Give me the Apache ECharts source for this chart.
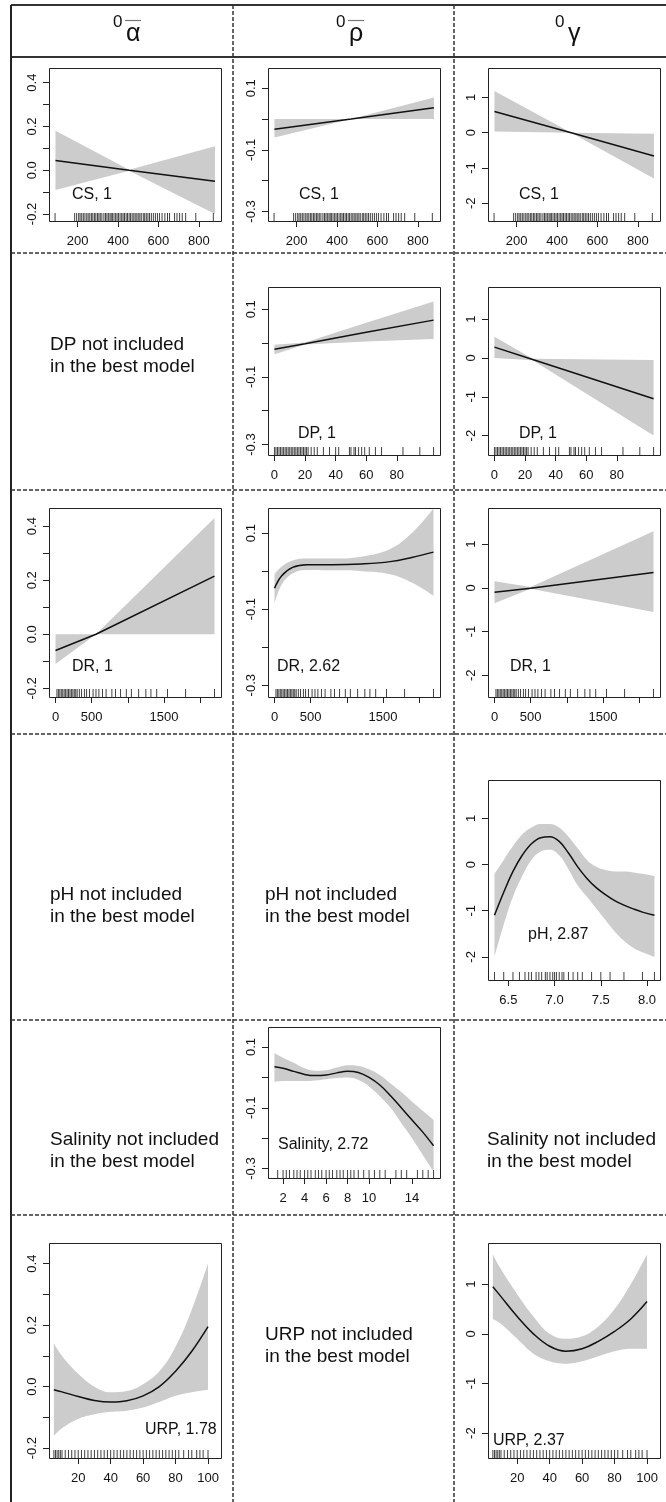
<!DOCTYPE html>
<html>
<head>
<meta charset="utf-8">
<script src="https://cdn.jsdelivr.net/npm/echarts@6/dist/echarts.min.js"></script>
<style>
  html, body { margin: 0; padding: 0; background: #fff; }
  #main { width: 666px; height: 1502px; }
</style>
</head>
<body>
<div id="main"></div>
<script>
// ---- data ----
// CS
var csX = [90, 455, 880];
var csAlphaFit = [0.044, 0.0, -0.05];
var csAlphaLo = [-0.09, -0.002, -0.2];
var csAlphaHi = [0.18, 0.002, 0.11];
var csRhoX = [90, 470, 880];
var csRhoFit = [-0.033, 0.0, 0.037];
var csRhoLo = [-0.06, 0.0, 0.0];
var csRhoHi = [0.0, 0.0, 0.07];
var csGammaX = [90, 470, 880];
var csGammaFit = [0.6, 0.0, -0.66];
var csGammaLo = [0.03, 0.0, -1.3];
var csGammaHi = [1.18, 0.0, -0.03];
var csRug = [88, 185, 195, 205, 212, 220, 228, 236, 245, 252, 260, 268, 275, 283, 290, 298, 305, 312, 320, 330, 338, 345, 352, 360, 366, 372, 380, 388, 395, 402, 410, 418, 425, 432, 440, 447, 455, 462, 470, 478, 485, 493, 500, 508, 515, 525, 532, 540, 548, 556, 565, 575, 585, 595, 605, 618, 632, 645, 655, 680, 692, 705, 718, 735, 785, 872];
var csTicks = [200, 400, 600, 800];

// DP
var dpX = [0, 20, 60, 104];
var dpRhoFit = [-0.018, -0.002, 0.032, 0.068];
var dpRhoLo = [-0.033, -0.004, 0.005, 0.012];
var dpRhoHi = [-0.005, 0.002, 0.06, 0.123];
var dpGammaX = [0, 25, 104];
var dpGammaFit = [0.28, -0.04, -1.05];
var dpGammaLo = [0.0, -0.06, -2.0];
var dpGammaHi = [0.55, -0.02, -0.05];
var dpRug = [0, 1, 2, 3, 4, 5, 6, 7, 8, 9, 10, 11, 12, 13, 14, 15, 16, 17, 18, 19, 20, 21, 22, 24, 26, 28, 32, 36, 40, 42, 49, 50, 52, 53, 55, 57, 59, 62, 66, 70, 84, 95, 104];
var dpTicks = [0, 20, 40, 60, 80];

// DR
var drX = [0, 560, 2200];
var drAlphaFit = [-0.06, 0.0, 0.215];
var drAlphaLo = [-0.11, 0.0, 0.0];
var drAlphaHi = [0.0, 0.0, 0.43];
var drRhoX = [0, 100, 250, 450, 800, 1200, 1600, 1900, 2200];
var drRhoFit = [-0.045, -0.012, 0.01, 0.017, 0.017, 0.019, 0.025, 0.036, 0.05];
var drRhoLo = [-0.085, -0.035, -0.006, 0.003, 0.002, 0.0, -0.008, -0.03, -0.065];
var drRhoHi = [-0.008, 0.012, 0.028, 0.033, 0.033, 0.038, 0.058, 0.1, 0.165];
var drGammaX = [0, 500, 2200];
var drGammaFit = [-0.1, -0.01, 0.35];
var drGammaLo = [-0.35, -0.02, -0.55];
var drGammaHi = [0.15, 0.02, 1.3];
var drRug = [20, 40, 60, 80, 100, 120, 140, 160, 180, 200, 220, 240, 260, 280, 300, 330, 360, 400, 430, 470, 520, 560, 600, 650, 700, 780, 830, 900, 980, 1050, 1150, 1250, 1320, 1400, 1550, 1800, 2200];
var drTicks = [0, 500, 1000, 1500, 2000];
var drLabels = [0, 500, 1500];

// pH
var phX = [6.35, 6.45, 6.55, 6.65, 6.75, 6.85, 6.95, 7.05, 7.15, 7.25, 7.35, 7.45, 7.55, 7.65, 7.75, 7.85, 7.95, 8.08];
var phGammaFit = [-1.1, -0.6, -0.15, 0.2, 0.45, 0.58, 0.6, 0.5, 0.25, -0.05, -0.3, -0.5, -0.65, -0.78, -0.88, -0.96, -1.03, -1.1];
var phGammaLo = [-2.0, -1.3, -0.7, -0.25, 0.1, 0.28, 0.32, 0.2, -0.1, -0.45, -0.7, -0.95, -1.2, -1.45, -1.65, -1.8, -1.9, -2.0];
var phGammaHi = [-0.2, 0.1, 0.4, 0.65, 0.8, 0.88, 0.88, 0.8, 0.6, 0.35, 0.1, -0.05, -0.12, -0.15, -0.15, -0.17, -0.2, -0.25];
var phRug = [6.35, 6.45, 6.55, 6.62, 6.68, 6.72, 6.75, 6.8, 6.83, 6.86, 6.9, 6.92, 6.95, 6.98, 7.0, 7.02, 7.05, 7.08, 7.1, 7.15, 7.2, 7.25, 7.3, 7.4, 7.5, 7.6, 7.75, 7.95, 8.08];
var phTicks = [6.5, 7.0, 7.5, 8.0];

// Salinity
var salX = [1.2, 2, 3, 4, 5, 6, 7, 8, 9, 10, 11, 12, 13, 14, 15, 16];
var salRhoFit = [0.035, 0.03, 0.02, 0.01, 0.006, 0.008, 0.015, 0.02, 0.016, 0.0, -0.025, -0.06, -0.1, -0.14, -0.18, -0.225];
var salRhoLo = [-0.015, -0.012, -0.012, -0.012, -0.01, -0.006, -0.002, 0.0, -0.008, -0.03, -0.062, -0.1, -0.15, -0.2, -0.255, -0.31];
var salRhoHi = [0.08, 0.065, 0.048, 0.03, 0.022, 0.024, 0.033, 0.04, 0.038, 0.027, 0.008, -0.02, -0.048, -0.08, -0.11, -0.14];
var salRug = [1.5, 2, 2.3, 2.6, 3, 3.3, 3.6, 4, 4.3, 4.6, 5, 5.3, 5.6, 6, 6.3, 6.6, 7, 7.3, 7.6, 8, 8.3, 8.6, 9, 9.5, 10, 10.5, 11, 11.5, 12.5, 13, 13.5, 14.5, 15, 15.5, 16];
var salTicks = [2, 4, 6, 8, 10, 12, 14];
var salLabels = [2, 4, 6, 8, 10, 14];

// URP
var urpX = [5, 10, 20, 30, 40, 50, 60, 70, 80, 90, 100];
var urpAlphaFit = [-0.01, -0.017, -0.032, -0.045, -0.05, -0.046, -0.03, 0.0, 0.05, 0.115, 0.195];
var urpAlphaLo = [-0.16, -0.135, -0.105, -0.09, -0.082, -0.078, -0.068, -0.05, -0.03, -0.018, -0.01];
var urpAlphaHi = [0.14, 0.1, 0.042, 0.0, -0.018, -0.014, 0.008, 0.05, 0.13, 0.25, 0.4];
var urpGammaFit = [0.95, 0.75, 0.35, 0.0, -0.25, -0.35, -0.3, -0.15, 0.05, 0.3, 0.65];
var urpGammaLo = [0.3, 0.2, -0.1, -0.4, -0.55, -0.6, -0.55, -0.45, -0.35, -0.3, -0.3];
var urpGammaHi = [1.6, 1.3, 0.8, 0.35, 0.0, -0.1, -0.05, 0.15, 0.5, 1.0, 1.6];
var urpRug = [5, 6, 7, 8, 9, 10, 12, 14, 16, 18, 20, 22, 24, 26, 28, 30, 32, 34, 36, 38, 40, 42, 44, 46, 48, 50, 52, 54, 56, 58, 60, 62, 64, 66, 68, 70, 72, 74, 76, 78, 80, 82, 85, 88, 90, 93, 95, 97, 100];
var urpTicks = [20, 40, 60, 80, 100];

// y scales of the three columns
var yAlpha = { min: -0.232, max: 0.467, ticks: [-0.2, -0.1, 0, 0.1, 0.2, 0.3, 0.4], labels: [-0.2, 0, 0.2, 0.4], dec: 1 };
var yRho = { min: -0.331, max: 0.166, ticks: [-0.3, -0.2, -0.1, 0, 0.1], labels: [-0.3, -0.1, 0.1], dec: 1 };
var yGamma = { min: -2.5, max: 1.83, ticks: [-2, -1, 0, 1], labels: [-2, -1, 0, 1], dec: 0 };

var headers = ['α', 'ρ', 'γ'];
var missing = [
  { c: 0, cy: 356, text: 'DP not included\nin the best model' },
  { c: 0, cy: 906, text: 'pH not included\nin the best model' },
  { c: 1, cy: 906, text: 'pH not included\nin the best model' },
  { c: 0, cy: 1151, text: 'Salinity not included\nin the best model' },
  { c: 2, cy: 1151, text: 'Salinity not included\nin the best model' },
  { c: 1, cy: 1346, text: 'URP not included\nin the best model' }
];

// ---- layout ----
var colX = [11, 233, 454];
var textX = [50, 265, 487];
var rowY = [5, 57, 253, 490, 734, 1020, 1215];
var boxLeft = [49, 268, 488];
var boxW = 172;
var boxTop = [68, 287, 508, 780, 1027, 1243];
var boxH = [153, 168, 189, 200, 151, 215];

var panels = [
  { c: 0, r: 0, xr: [58, 910], y: yAlpha, xs: csX, fit: csAlphaFit, lo: csAlphaLo, hi: csAlphaHi, rug: csRug, xt: csTicks, xl: csTicks, label: 'CS, 1', lx: 72, ly: 195 },
  { c: 1, r: 0, xr: [58, 910], y: yRho, xs: csRhoX, fit: csRhoFit, lo: csRhoLo, hi: csRhoHi, rug: csRug, xt: csTicks, xl: csTicks, label: 'CS, 1', lx: 299, ly: 195 },
  { c: 2, r: 0, xr: [58, 910], y: yGamma, xs: csGammaX, fit: csGammaFit, lo: csGammaLo, hi: csGammaHi, rug: csRug, xt: csTicks, xl: csTicks, label: 'CS, 1', lx: 519, ly: 195 },
  { c: 1, r: 1, xr: [-4.2, 108.2], y: yRho, xs: dpX, fit: dpRhoFit, lo: dpRhoLo, hi: dpRhoHi, rug: dpRug, xt: dpTicks, xl: dpTicks, label: 'DP, 1', lx: 298, ly: 434 },
  { c: 2, r: 1, xr: [-4.2, 108.2], y: yGamma, xs: dpGammaX, fit: dpGammaFit, lo: dpGammaLo, hi: dpGammaHi, rug: dpRug, xt: dpTicks, xl: dpTicks, label: 'DP, 1', lx: 519, ly: 434 },
  { c: 0, r: 2, xr: [-90, 2290], y: yAlpha, xs: drX, fit: drAlphaFit, lo: drAlphaLo, hi: drAlphaHi, rug: drRug, xt: drTicks, xl: drLabels, label: 'DR, 1', lx: 72, ly: 667 },
  { c: 1, r: 2, xr: [-90, 2290], y: yRho, xs: drRhoX, fit: drRhoFit, lo: drRhoLo, hi: drRhoHi, rug: drRug, xt: drTicks, xl: drLabels, label: 'DR, 2.62', lx: 277, ly: 667, smooth: true },
  { c: 2, r: 2, xr: [-90, 2290], y: yGamma, xs: drGammaX, fit: drGammaFit, lo: drGammaLo, hi: drGammaHi, rug: drRug, xt: drTicks, xl: drLabels, label: 'DR, 1', lx: 510, ly: 667 },
  { c: 2, r: 3, xr: [6.28, 8.14], y: yGamma, xs: phX, fit: phGammaFit, lo: phGammaLo, hi: phGammaHi, rug: phRug, xt: phTicks, xl: phTicks, label: 'pH, 2.87', lx: 528, ly: 935, smooth: true },
  { c: 1, r: 4, xr: [0.6, 16.6], y: yRho, xs: salX, fit: salRhoFit, lo: salRhoLo, hi: salRhoHi, rug: salRug, xt: salTicks, xl: salLabels, label: 'Salinity, 2.72', lx: 278, ly: 1145, smooth: true },
  { c: 0, r: 5, xr: [2, 108], y: yAlpha, xs: urpX, fit: urpAlphaFit, lo: urpAlphaLo, hi: urpAlphaHi, rug: urpRug, xt: urpTicks, xl: urpTicks, label: 'URP, 1.78', lx: 145, ly: 1430, smooth: true },
  { c: 2, r: 5, xr: [2, 108], y: yGamma, xs: urpX, fit: urpGammaFit, lo: urpGammaLo, hi: urpGammaHi, rug: urpRug, xt: urpTicks, xl: urpTicks, label: 'URP, 2.37', lx: 493, ly: 1441, smooth: true }
];

var myChart = echarts.init(document.getElementById('main'));
var font = '"Liberation Sans", Arial, sans-serif';

var grid = [], xAxis = [], yAxis = [], series = [], graphic = [];

panels.forEach(function (p, k) {
  var left = boxLeft[p.c], top = boxTop[p.r], h = boxH[p.r];
  grid.push({ left: left, top: top, width: boxW, height: h, show: false });
  xAxis.push({
    type: 'value', gridIndex: k, min: p.xr[0], max: p.xr[1],
    splitLine: { show: false }, axisLine: { show: false, onZero: false },
    axisTick: { show: true, inside: false, length: 6, customValues: p.xt, lineStyle: { color: '#222' } },
    axisLabel: { customValues: p.xl, margin: 14, color: '#111', fontSize: 13, fontFamily: font,
      formatter: function (v) { return p.xt === phTicks ? v.toFixed(1) : String(v); } }
  });
  yAxis.push({
    type: 'value', gridIndex: k, min: p.y.min, max: p.y.max,
    splitLine: { show: false }, axisLine: { show: false, onZero: false },
    axisTick: { show: true, inside: false, length: 6, customValues: p.y.ticks, lineStyle: { color: '#222' } },
    axisLabel: { customValues: p.y.labels, rotate: 90, margin: 10, color: '#111', fontSize: 13, fontFamily: font,
      formatter: function (v) { return Number(v).toFixed(p.y.dec); } }
  });
  var sm = p.smooth ? 0.4 : false;
  // confidence band: lower bound + (upper - lower), stacked on the y value
  // (y is stored first so that it is the stacked dimension)
  series.push({
    type: 'line', xAxisIndex: k, yAxisIndex: k, stack: 'band' + k, stackStrategy: 'all',
    encode: { x: 1, y: 0 },
    data: p.xs.map(function (x, i) { return [p.lo[i], x]; }),
    symbol: 'none', smooth: sm, lineStyle: { width: 0, opacity: 0 }, silent: true, z: 1
  });
  series.push({
    type: 'line', xAxisIndex: k, yAxisIndex: k, stack: 'band' + k, stackStrategy: 'all',
    encode: { x: 1, y: 0 },
    data: p.xs.map(function (x, i) { return [p.hi[i] - p.lo[i], x]; }),
    symbol: 'none', smooth: sm, lineStyle: { width: 0, opacity: 0 },
    areaStyle: { color: '#cccccc', opacity: 1 }, silent: true, z: 1
  });
  series.push({
    type: 'line', xAxisIndex: k, yAxisIndex: k,
    data: p.xs.map(function (x, i) { return [x, p.fit[i]]; }),
    symbol: 'none', smooth: sm, lineStyle: { color: '#111', width: 1.5 }, silent: true, z: 3
  });
  series.push({
    type: 'scatter', xAxisIndex: k, yAxisIndex: k, clip: false,
    data: p.rug.map(function (x) { return [x, p.y.min]; }),
    symbol: 'rect', symbolSize: [1, 8], symbolOffset: [0, -4],
    itemStyle: { color: '#111' }, silent: true, z: 4
  });
  graphic.push({
    type: 'rect', shape: { x: left + 0.5, y: top + 0.5, width: boxW, height: h },
    style: { fill: null, stroke: '#222', lineWidth: 1 }, z: 20
  });
  graphic.push({
    type: 'text', x: p.lx, y: p.ly,
    style: { text: p.label, fill: '#111', font: '16px ' + font, textVerticalAlign: 'middle' }, z: 21
  });
});

// table lines
var dash = [4, 2];
graphic.push({ type: 'line', shape: { x1: colX[0], y1: rowY[0], x2: 666, y2: rowY[0] }, style: { stroke: '#333', lineWidth: 2 }, z: 30 });
graphic.push({ type: 'line', shape: { x1: colX[0], y1: rowY[1], x2: 666, y2: rowY[1] }, style: { stroke: '#333', lineWidth: 2 }, z: 30 });
graphic.push({ type: 'line', shape: { x1: colX[0], y1: rowY[0], x2: colX[0], y2: 1502 }, style: { stroke: '#222', lineWidth: 2 }, z: 30 });
[1, 2].forEach(function (i) {
  graphic.push({ type: 'line', shape: { x1: colX[i], y1: rowY[0], x2: colX[i], y2: 1502 }, style: { stroke: '#333', lineWidth: 1.5, lineDash: dash }, z: 30 });
});
[2, 3, 4, 5, 6].forEach(function (i) {
  graphic.push({ type: 'line', shape: { x1: colX[0], y1: rowY[i], x2: 666, y2: rowY[i] }, style: { stroke: '#333', lineWidth: 1.5, lineDash: dash }, z: 30 });
});

// header: superscript 0 + greek letter (bar over alpha and rho)
var headCx = [126, 349, 568];
headers.forEach(function (g, i) {
  var cx = headCx[i];
  graphic.push({ type: 'text', x: cx - 13, y: 14, style: { text: '0', fill: '#111', font: '17px ' + font } });
  graphic.push({ type: 'text', x: cx, y: 22, style: { text: g, fill: '#111', font: '25px ' + font } });
  if (i < 2) {
    graphic.push({ type: 'line', shape: { x1: cx - 1, y1: 20.5, x2: cx + 15, y2: 20.5 }, style: { stroke: '#777', lineWidth: 1.2 } });
  }
});

// "not included" cells
missing.forEach(function (m) {
  graphic.push({
    type: 'text', x: textX[m.c], y: m.cy,
    style: { text: m.text, fill: '#111', font: '19px ' + font, lineHeight: 22, textVerticalAlign: 'middle' }
  });
});

var option = {
  animation: false,
  backgroundColor: '#fff',
  grid: grid,
  xAxis: xAxis,
  yAxis: yAxis,
  series: series,
  graphic: graphic
};

myChart.setOption(option);
window.addEventListener('resize', function () {
  myChart.resize();
});
</script>
</body>
</html>
